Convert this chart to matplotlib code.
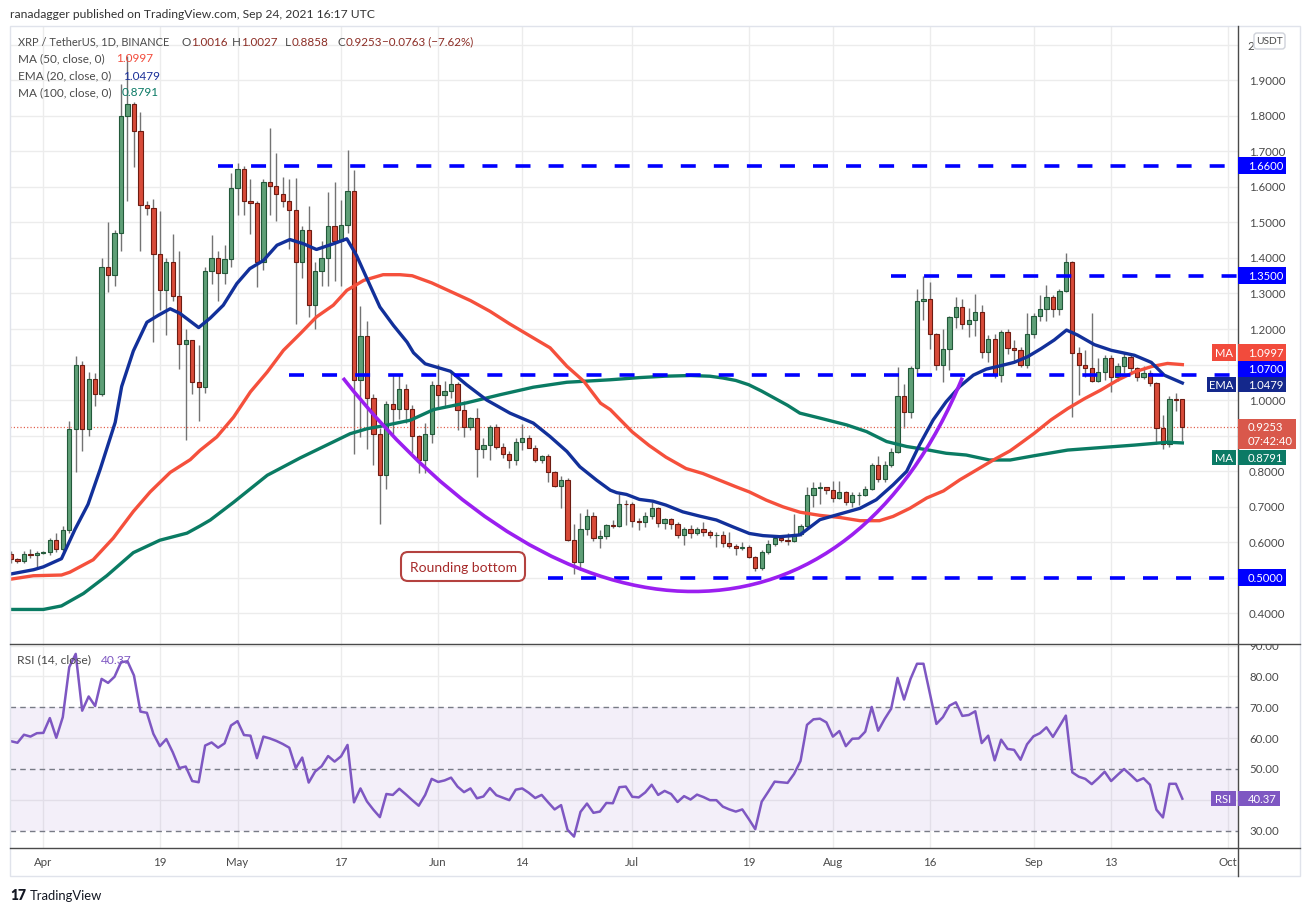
import numpy as np
import pandas as pd
import matplotlib
matplotlib.use("Agg")
import matplotlib.pyplot as plt
import matplotlib.dates as mdates
from matplotlib.patches import Rectangle, FancyBboxPatch, PathPatch
from matplotlib.path import Path
from matplotlib.lines import Line2D
from matplotlib.transforms import IdentityTransform

plt.rcParams['font.family'] = ['Lato', 'DejaVu Sans']
plt.rcParams['lines.scale_dashes'] = False

W, H = 1310, 912

# daily candles XRP/USDT, 27 Mar - 24 Sep 2021
dates = pd.date_range("2021-03-27", "2021-09-24", freq="D")
opens = [0.565, 0.552, 0.546, 0.567, 0.562, 0.570, 0.571, 0.607, 0.580, 0.635,
         0.917, 1.098, 0.917, 1.058, 1.018, 1.374, 1.352, 1.470, 1.799, 1.835,
         1.758, 1.548, 1.540, 1.410, 1.311, 1.388, 1.292, 1.158, 1.168, 1.050,
         1.036, 1.364, 1.400, 1.358, 1.398, 1.597, 1.652, 1.560, 1.555, 1.389,
         1.614, 1.603, 1.581, 1.560, 1.534, 1.390, 1.480, 1.267, 1.363, 1.400,
         1.490, 1.448, 1.494, 1.590, 1.055, 1.180, 1.006, 0.903, 0.788, 0.990,
         0.975, 1.032, 0.975, 0.900, 0.831, 0.905, 1.042, 1.013, 1.025, 1.046,
         0.971, 0.925, 0.949, 0.862, 0.874, 0.923, 0.869, 0.848, 0.831, 0.883,
         0.892, 0.866, 0.831, 0.843, 0.798, 0.758, 0.775, 0.605, 0.545, 0.636,
         0.674, 0.611, 0.617, 0.647, 0.646, 0.708, 0.707, 0.660, 0.657, 0.674,
         0.696, 0.654, 0.666, 0.651, 0.620, 0.638, 0.626, 0.638, 0.629, 0.620,
         0.621, 0.598, 0.589, 0.582, 0.587, 0.559, 0.528, 0.573, 0.593, 0.610,
         0.606, 0.603, 0.623, 0.646, 0.733, 0.752, 0.754, 0.747, 0.725, 0.740,
         0.714, 0.731, 0.733, 0.750, 0.817, 0.778, 0.817, 0.853, 1.012, 0.967,
         1.091, 1.279, 1.284, 1.187, 1.098, 1.143, 1.234, 1.262, 1.214, 1.225,
         1.247, 1.136, 1.173, 1.070, 1.192, 1.147, 1.141, 1.100, 1.185, 1.236,
         1.255, 1.290, 1.255, 1.307, 1.389, 1.131, 1.098, 1.089, 1.053, 1.079,
         1.119, 1.065, 1.096, 1.122, 1.091, 1.065, 1.077, 1.049, 0.922, 0.875,
         1.003, 1.0016]
highs = [0.575, 0.556, 0.575, 0.580, 0.576, 0.574, 0.612, 0.625, 0.645, 0.940,
         1.123, 1.110, 1.078, 1.075, 1.400, 1.500, 1.480, 1.890, 1.969, 1.840,
         1.810, 1.560, 1.565, 1.532, 1.400, 1.467, 1.420, 1.200, 1.170, 1.156,
         1.375, 1.464, 1.420, 1.436, 1.640, 1.668, 1.659, 1.623, 1.560, 1.623,
         1.767, 1.697, 1.628, 1.623, 1.625, 1.490, 1.546, 1.389, 1.449, 1.586,
         1.614, 1.564, 1.705, 1.647, 1.265, 1.222, 1.018, 0.920, 0.998, 1.071,
         1.071, 1.045, 0.986, 0.902, 0.936, 1.053, 1.102, 1.054, 1.080, 1.050,
         0.998, 0.951, 0.977, 0.893, 0.929, 0.931, 0.878, 0.855, 0.893, 0.932,
         0.902, 0.874, 0.846, 0.847, 0.800, 0.787, 0.781, 0.651, 0.681, 0.692,
         0.685, 0.633, 0.652, 0.663, 0.736, 0.718, 0.712, 0.668, 0.684, 0.712,
         0.698, 0.668, 0.669, 0.655, 0.642, 0.649, 0.642, 0.657, 0.634, 0.628,
         0.632, 0.628, 0.593, 0.601, 0.592, 0.561, 0.578, 0.605, 0.621, 0.621,
         0.625, 0.680, 0.652, 0.756, 0.770, 0.770, 0.756, 0.773, 0.773, 0.744,
         0.740, 0.740, 0.757, 0.822, 0.843, 0.827, 0.864, 1.092, 1.044, 1.097,
         1.312, 1.350, 1.331, 1.188, 1.199, 1.238, 1.290, 1.285, 1.260, 1.299,
         1.267, 1.183, 1.185, 1.197, 1.199, 1.169, 1.150, 1.246, 1.246, 1.297,
         1.325, 1.297, 1.314, 1.415, 1.391, 1.149, 1.141, 1.246, 1.119, 1.127,
         1.127, 1.105, 1.136, 1.127, 1.094, 1.096, 1.085, 1.052, 0.958, 1.010,
         1.020, 1.0027]
lows = [0.540, 0.541, 0.542, 0.555, 0.530, 0.565, 0.562, 0.572, 0.574, 0.625,
        0.797, 0.857, 0.900, 0.982, 1.010, 1.304, 1.320, 1.420, 1.560, 1.656,
        1.420, 1.520, 1.163, 1.254, 1.183, 1.280, 1.088, 0.887, 1.018, 0.942,
        1.020, 1.328, 1.280, 1.328, 1.375, 1.520, 1.522, 1.468, 1.318, 1.365,
        1.520, 1.503, 1.545, 1.426, 1.215, 1.345, 1.234, 1.200, 1.320, 1.322,
        1.335, 1.322, 1.470, 0.849, 0.896, 0.863, 0.818, 0.652, 0.750, 0.905,
        0.947, 0.935, 0.850, 0.793, 0.795, 0.880, 0.977, 0.981, 1.007, 0.916,
        0.895, 0.916, 0.784, 0.838, 0.830, 0.862, 0.838, 0.808, 0.817, 0.860,
        0.864, 0.826, 0.823, 0.770, 0.756, 0.696, 0.603, 0.510, 0.521, 0.619,
        0.602, 0.582, 0.609, 0.640, 0.641, 0.648, 0.641, 0.634, 0.641, 0.664,
        0.641, 0.637, 0.637, 0.612, 0.592, 0.612, 0.619, 0.617, 0.612, 0.587,
        0.587, 0.584, 0.562, 0.578, 0.555, 0.517, 0.520, 0.565, 0.588, 0.600,
        0.592, 0.601, 0.617, 0.638, 0.700, 0.706, 0.734, 0.714, 0.720, 0.703,
        0.700, 0.703, 0.730, 0.747, 0.770, 0.770, 0.811, 0.850, 0.922, 0.950,
        1.069, 1.225, 1.143, 1.084, 1.052, 1.085, 1.203, 1.201, 1.178, 1.181,
        1.119, 1.108, 1.061, 1.052, 1.130, 1.110, 1.094, 1.091, 1.175, 1.222,
        1.222, 1.235, 1.239, 1.303, 0.953, 1.014, 1.064, 1.050, 1.050, 1.056,
        1.022, 1.053, 1.075, 1.072, 1.053, 1.060, 1.039, 0.875, 0.862, 0.869,
        0.968, 0.8858]
closes = [0.552, 0.546, 0.567, 0.562, 0.570, 0.571, 0.607, 0.580, 0.635, 0.917,
          1.098, 0.917, 1.058, 1.018, 1.374, 1.352, 1.470, 1.799, 1.835, 1.758,
          1.548, 1.540, 1.410, 1.311, 1.388, 1.292, 1.158, 1.168, 1.050, 1.036,
          1.364, 1.400, 1.358, 1.398, 1.597, 1.652, 1.560, 1.555, 1.389, 1.614,
          1.603, 1.581, 1.560, 1.534, 1.390, 1.480, 1.267, 1.363, 1.400, 1.490,
          1.448, 1.494, 1.590, 1.055, 1.180, 1.006, 0.903, 0.788, 0.990, 0.975,
          1.032, 0.975, 0.900, 0.831, 0.905, 1.042, 1.013, 1.025, 1.046, 0.971,
          0.925, 0.949, 0.862, 0.874, 0.923, 0.869, 0.848, 0.831, 0.883, 0.892,
          0.866, 0.831, 0.843, 0.798, 0.758, 0.775, 0.605, 0.545, 0.636, 0.674,
          0.611, 0.617, 0.647, 0.646, 0.708, 0.707, 0.660, 0.657, 0.674, 0.696,
          0.654, 0.666, 0.651, 0.620, 0.638, 0.626, 0.638, 0.629, 0.620, 0.621,
          0.598, 0.589, 0.582, 0.587, 0.559, 0.528, 0.573, 0.593, 0.610, 0.606,
          0.603, 0.623, 0.646, 0.733, 0.752, 0.754, 0.747, 0.725, 0.740, 0.714,
          0.731, 0.733, 0.750, 0.817, 0.778, 0.817, 0.853, 1.012, 0.967, 1.091,
          1.279, 1.284, 1.187, 1.098, 1.143, 1.234, 1.262, 1.214, 1.225, 1.247,
          1.136, 1.173, 1.070, 1.192, 1.147, 1.141, 1.100, 1.185, 1.236, 1.255,
          1.290, 1.255, 1.307, 1.389, 1.131, 1.098, 1.089, 1.053, 1.079, 1.119,
          1.065, 1.096, 1.122, 1.091, 1.065, 1.077, 1.049, 0.922, 0.875, 1.003,
          1.000, 0.9253]

# RSI(14), one value per candle
rsi = [59.0, 58.5, 61.1, 60.5, 61.6, 61.7, 66.5, 60.1, 66.8, 83.0,
       87.3, 68.9, 73.5, 70.4, 79.2, 77.9, 79.9, 84.6, 84.9, 80.3,
       68.6, 68.2, 61.4, 57.4, 59.7, 55.4, 50.3, 50.8, 46.1, 45.7,
       57.6, 58.6, 56.9, 58.3, 64.1, 65.5, 61.0, 60.8, 53.5, 60.5,
       59.9, 59.1, 58.1, 56.9, 50.3, 53.7, 45.6, 49.2, 50.9, 54.2,
       52.4, 54.1, 57.8, 39.2, 43.7, 39.5, 36.8, 34.4, 41.9, 41.6,
       43.6, 41.8, 39.9, 38.1, 41.6, 46.8, 45.8, 46.3, 47.2, 44.3,
       42.5, 43.7, 40.5, 41.1, 43.8, 41.5, 40.7, 39.9, 43.3, 43.7,
       42.3, 40.6, 41.6, 39.2, 36.9, 38.3, 30.3, 28.1, 36.1, 38.8,
       35.8, 36.2, 39.0, 38.9, 44.1, 44.3, 41.0, 40.8, 42.4, 44.9,
       41.6, 42.9, 41.9, 39.3, 41.2, 40.1, 41.7, 40.9, 39.9, 39.9,
       37.8, 36.9, 36.2, 36.9, 33.8, 30.5, 39.4, 42.6, 45.9, 45.7,
       45.5, 48.4, 52.6, 64.3, 66.1, 66.3, 65.1, 60.5, 62.3, 57.4,
       59.8, 59.9, 62.1, 70.1, 62.4, 66.2, 69.5, 79.5, 72.5, 79.2,
       84.1, 84.1, 74.3, 64.6, 66.8, 70.5, 71.6, 67.2, 67.5, 68.7,
       58.4, 60.8, 52.8, 59.5, 56.5, 56.2, 53.0, 58.0, 60.6, 61.6,
       63.5, 60.4, 63.8, 67.3, 48.9, 47.5, 46.8, 45.1, 47.0, 49.1,
       46.1, 48.1, 50.0, 48.1, 46.1, 47.0, 44.9, 36.8, 34.3, 45.2,
       45.2, 40.37]

# moving averages at candle positions (1 = 27 Mar)
ema20_at = [1, 4.5, 6, 8.8, 10.9, 12.9, 14.8, 17.1, 18.1, 19.9, 22.0, 23.8, 25.6,
            27.1, 30.0, 31.8, 33.8, 35.9, 37.9, 40.0, 42.1, 44.1, 46.2, 48.2,
            50.8, 52.9, 54.4, 56.0, 58.0, 60.1, 62.2, 63.2, 65.0, 68.9, 71.4,
            74.5, 78.1, 81.7, 84.3, 86.9, 88.9, 91.5, 93.6, 94.6, 96.1, 98.1,
            100.2, 102.2, 104.8, 107.4, 110.0, 112.5, 115.1, 117.2, 119.8, 121.8,
            122.9, 126.0, 129.1, 132.2, 134.7, 137.3, 139.4, 141.4, 143.5, 145.5,
            147.6, 149.7, 151.7, 153.8, 156.0, 158.1, 160.2, 162.2, 164.1, 165.8,
            168.4, 171.0, 174.6, 177.2, 179.2, 182]
ema20 = [0.510, 0.522, 0.530, 0.553, 0.636, 0.706, 0.806, 0.937, 1.038, 1.138, 1.219,
         1.239, 1.257, 1.244, 1.204, 1.231, 1.267, 1.328, 1.370, 1.393, 1.436,
         1.452, 1.440, 1.424, 1.440, 1.454, 1.407, 1.342, 1.262, 1.210, 1.163,
         1.133, 1.102, 1.081, 1.043, 1.000, 0.963, 0.935, 0.897, 0.855, 0.812,
         0.774, 0.746, 0.739, 0.734, 0.720, 0.715, 0.704, 0.685, 0.673, 0.662,
         0.643, 0.624, 0.618, 0.615, 0.618, 0.620, 0.663, 0.679, 0.695, 0.719,
         0.761, 0.799, 0.874, 0.944, 0.995, 1.038, 1.070, 1.087, 1.096, 1.106,
         1.122, 1.145, 1.169, 1.197, 1.183, 1.156, 1.140, 1.126, 1.106, 1.070,
         1.0479]
ma50_at = [0.85, 4.45, 8.8, 10.1, 13.7, 16.8, 19.9, 22.5, 25.6, 28.7, 30.2, 32.8,
           35.4, 38.0, 40.6, 43.1, 45.7, 48.2, 50.8, 52.9, 55.5, 58.5, 61.1, 63,
           66, 69, 72, 75, 78, 81.7, 84.3, 86.9, 89.5, 92.1, 93.6, 95, 97, 99.6,
           102.2, 105.3, 107.9, 110.5, 113.1, 115.1, 117.7, 120.3, 122.9, 126,
           129.1, 132.2, 135.2, 137.3, 139.9, 142.5, 145.1, 147.6, 150.2, 152.8,
           155.4, 157, 159.1, 161.7, 164.3, 166.9, 169.4, 172, 174.6, 177.2,
           179.7, 182]
ma50 = [0.495, 0.505, 0.507, 0.515, 0.550, 0.611, 0.686, 0.741, 0.796, 0.832, 0.858,
        0.896, 0.952, 1.023, 1.079, 1.140, 1.187, 1.234, 1.267, 1.309, 1.337,
        1.353, 1.353, 1.350, 1.330, 1.305, 1.280, 1.250, 1.215, 1.175, 1.147,
        1.095, 1.053, 0.991, 0.973, 0.947, 0.910, 0.872, 0.839, 0.807, 0.793,
        0.774, 0.755, 0.741, 0.718, 0.699, 0.684, 0.675, 0.669, 0.660, 0.660,
        0.672, 0.695, 0.724, 0.744, 0.775, 0.803, 0.831, 0.857, 0.878, 0.906,
        0.944, 0.976, 1.004, 1.028, 1.056, 1.079, 1.094, 1.103, 1.0997]
ma100_at = [0.85, 6, 8.8, 12.2, 15.8, 19.9, 24, 28.2, 30.2, 31.8, 35.4, 40.6, 45.7,
            50.8, 53.4, 56, 59, 62.7, 66.3, 71.4, 76.6, 81.7, 86.9, 93.6, 98, 102,
            106, 109, 111, 113, 115, 117, 119, 121, 122.9, 126, 130.1, 133.2,
            136.3, 139.4, 142.5, 145.5, 148.6, 152.2, 155.4, 159.1, 164.3, 169.4,
            174.6, 179.7, 182]
ma100 = [0.410, 0.410, 0.420, 0.455, 0.505, 0.570, 0.605, 0.625, 0.645, 0.662,
         0.712, 0.788, 0.837, 0.882, 0.905, 0.919, 0.929, 0.943, 0.973, 0.992,
         1.015, 1.036, 1.050, 1.057, 1.063, 1.067, 1.069, 1.067, 1.062, 1.055,
         1.043, 1.025, 1.005, 0.985, 0.963, 0.949, 0.930, 0.911, 0.883, 0.869,
         0.860, 0.850, 0.845, 0.831, 0.831, 0.843, 0.859, 0.866, 0.873, 0.881,
         0.8791]

# drawings
levels = [1.66, 1.35, 1.07, 0.50]
level_from = [33, 137, 44, 84]
arc_nodes = [(52.3, 1.062), (87, 0.26), (130, 0.26), (148, 1.063)]

tick_dates = ["2021-04-01", "2021-04-19", "2021-05-01", "2021-05-17", "2021-06-01",
              "2021-06-14", "2021-07-01", "2021-07-19", "2021-08-01", "2021-08-16",
              "2021-09-01", "2021-09-13", "2021-10-01"]
tick_labels = ["Apr", "19", "May", "17", "Jun", "14", "Jul", "19", "Aug", "16",
               "Sep", "13", "Oct"]
price_ticks = [0.4, 0.5, 0.6, 0.7, 0.8, 0.9, 1.0, 1.1, 1.2, 1.3, 1.4, 1.5, 1.6, 1.7,
               1.8, 1.9, 2.0]
price_shown = [0.4, 0.6, 0.7, 0.8, 1.0, 1.2, 1.3, 1.4, 1.5, 1.6, 1.7, 1.8, 1.9]
rsi_shown = [90, 80, 70, 60, 50, 30]

GREY = "#4a4a4a"


def fbox(left, top, right, bottom):
    return [left / W, 1 - bottom / H, (right - left) / W, (bottom - top) / H]


def fy(y):
    return 1 - y / H


x = mdates.date2num(dates)
x0 = x[0]
o, h, l, c = map(np.array, (opens, highs, lows, closes))

fig = plt.figure(figsize=(W / 100, H / 100), dpi=100)
ax = fig.add_axes(fbox(10, 27, 1238, 645))
ax_r = fig.add_axes(fbox(10, 645, 1238, 849))

for a in (ax, ax_r):
    a.set_xlim(x0 - 0.155, x0 + 189.6)
    a.set_xticks(mdates.date2num(pd.to_datetime(tick_dates)))
    a.tick_params(length=0, labelbottom=False, labelleft=False)
    a.grid(True, color="#ececec", lw=1)
    a.set_axisbelow(True)
    for s in a.spines.values():
        s.set_visible(False)
ax.set_ylim(0.3127, 2.0535)
ax.set_yticks(price_ticks)
ax_r.set_ylim(24.4, 90.5)
ax_r.set_yticks([40, 60, 80, 90])

# candles
up = c >= o
ax.vlines(x, l, h, color="#737373", lw=1, zorder=2)
ax.bar(x[up], (c - o)[up], bottom=o[up], width=0.66, color="#5f9f77",
       edgecolor="#23593a", lw=0.8, zorder=3)
ax.bar(x[~up], (o - c)[~up], bottom=c[~up], width=0.66, color="#d84b39",
       edgecolor="#6e1c12", lw=0.8, zorder=3)

# moving averages
ax.plot(x0 + np.array(ma100_at) - 1, ma100, color="#0a7b63", lw=2.4, zorder=4)
ax.plot(x0 + np.array(ma50_at) - 1, ma50, color="#f5503c", lw=2.4, zorder=4)
ax.plot(x0 + np.array(ema20_at) - 1, ema20, color="#12309a", lw=2.4, zorder=4)

# last price line
ax.axhline(closes[-1], color="#e0533f", lw=0.9, dashes=(0.8, 1.6), zorder=2)

# horizontal levels
for lv, n0 in zip(levels, level_from):
    ax.plot([x0 + n0 - 1, x0 + 190], [lv, lv], color="#0000ff", lw=2.6,
            dashes=(10.8, 13), solid_capstyle="butt", dash_capstyle="butt", zorder=6)

# rounding bottom arc
verts = [(x0 + n - 1, v) for n, v in arc_nodes]
arc = Path(verts, [Path.MOVETO, Path.CURVE4, Path.CURVE4, Path.CURVE4])
ax.add_patch(PathPatch(arc, fill=False, edgecolor="#9b1ff0", lw=2.6, zorder=6))

# RSI panel
ax_r.axhspan(30, 70, color="#7e57c2", alpha=0.09, lw=0)
for lv in (70, 50, 30):
    ax_r.axhline(lv, color="#787b86", lw=1, dashes=(4, 3))
ax_r.plot(x, rsi, color="#7e57c2", lw=1.8, zorder=4)


def ypix(a, v):
    return H - a.transData.transform((x0, v))[1]


def xpix(d):
    return ax.transData.transform((d, 1))[0]


def rect(x1, y1, x2, y2, fc, ec="none", lw=0, z=5, rounding=0):
    if rounding:
        p = FancyBboxPatch((x1, H - y2), x2 - x1, y2 - y1,
                           boxstyle=f"round,pad=0,rounding_size={rounding}",
                           transform=IdentityTransform(), facecolor=fc,
                           edgecolor=ec, lw=lw, zorder=z)
    else:
        p = Rectangle((x1, H - y2), x2 - x1, y2 - y1, transform=IdentityTransform(),
                      facecolor=fc, edgecolor=ec, lw=lw, zorder=z)
    fig.add_artist(p)


def label(xp, yp, s, color=GREY, size=8.3, ha="left", z=6, **kw):
    return fig.text(xp / W, fy(yp), s, color=color, fontsize=size, ha=ha,
                    va="center", zorder=z, **kw)


# price scale labels (the ones hidden behind tags in the original are left out)
for v in price_shown:
    label(1249, ypix(ax, v), f"{v:.4f}", z=3)
label(1247, ypix(ax, 2.0) + 1, "2", z=3)
for v in rsi_shown:
    label(1249, ypix(ax_r, v), f"{v:.2f}", z=3)
rect(1239, 628, 1299, 644.5, "white", z=4)

# frame and separators
rect(10, 27, 1300, 877, "none", ec="#e0e3eb", lw=1, z=7)
fig.add_artist(Line2D([1238 / W] * 2, [fy(27), fy(877)], color=GREY, lw=1, zorder=8))
for yy in (645, 849):
    fig.add_artist(Line2D([10 / W, 1300 / W], [fy(yy)] * 2, color=GREY, lw=1, zorder=8))

# USDT badge
rect(1254, 34, 1285, 50, "white", ec="#cfd2da", lw=1, z=5, rounding=3)
label(1269.5, 42, "USDT", size=7.4, ha="center")


def tag(y1, y2, text, fc, name=None, name_left=1212):
    rect(1238, y1, 1286, y2, fc, z=9)
    label(1248, (y1 + y2) / 2, text, color="white", size=8.1, z=10)
    if name:
        rect(name_left, y1, 1236, y2, fc, z=9)
        label((name_left + 1236) / 2, (y1 + y2) / 2, name, color="white",
              size=8.1, ha="center", z=10)


for lv in (1.66, 1.35, 0.50):
    yc = ypix(ax, lv)
    tag(yc - 8.5, yc + 8.5, f"{lv:.4f}", "#0000ff")
tag(345, 362, f"{ma50[-1]:.4f}", "#f24b3c", "MA")
tag(361.7, 377.5, "1.0700", "#0000ff")
tag(378, 393, f"{ema20[-1]:.4f}", "#14288c", "EMA", name_left=1207)
tag(451, 466, f"{ma100[-1]:.4f}", "#0b7a65", "MA")
rect(1238, 420, 1296, 450, "#d9584b", z=9)
label(1248, 428, f"{closes[-1]:.4f}", color="white", size=8.1, z=10)
label(1248, 442, "07:42:40", color="white", size=8.1, z=10)

yr = ypix(ax_r, rsi[-1])
rect(1238, yr - 7.5, 1280, yr + 7.5, "#7e57c2", z=9)
label(1248, yr, f"{rsi[-1]:.2f}", color="white", size=8.1, z=10)
rect(1211, yr - 7.5, 1236, yr + 7.5, "#7e57c2", z=9)
label(1223.5, yr, "RSI", color="white", size=8.1, ha="center", z=10)

# time axis labels
for d, s in zip(pd.to_datetime(tick_dates), tick_labels):
    label(xpix(mdates.date2num(d)), 863, s, ha="center")

# annotation box
rect(401, 553, 525, 582, "white", ec="#b4423f", lw=1.5, z=9, rounding=7)
label(463, 567.5, "Rounding bottom", color="#a62b2b", size=10, ha="center", z=10)

# header texts
label(10, 15, "ranadagger published on TradingView.com, Sep 24, 2021 16:17 UTC",
      color="#333333", size=8.7)
RED_TXT = "#8c2d25"
label(18, 42, "XRP / TetherUS, 1D, BINANCE", size=7.9)
renderer = fig.canvas.get_renderer()
for xp, key, val in [(181, "O", "1.0016"), (232, "H", "1.0027"), (285, "L", "0.8858"),
                     (337, "C", "0.9253")]:
    t = label(xp, 42, key, size=8.4)
    kx = t.get_window_extent(renderer).x1
    label(kx + 0.5, 42, val, color=RED_TXT, size=8.4)
label(382, 42, "\u22120.0763 (\u22127.62%)", color=RED_TXT, size=8.4)
label(18, 59, "MA (50, close, 0)", size=8.5)
label(116, 59, f"{ma50[-1]:.4f}", color="#f24b3c", size=8.5)
label(18, 76, "EMA (20, close, 0)", size=8.5)
label(123, 76, f"{ema20[-1]:.4f}", color="#1a2f98", size=8.5)
label(18, 93, "MA (100, close, 0)", size=8.5)
label(122, 93, f"{ma100[-1]:.4f}", color="#0b7a65", size=8.5)
label(17, 660, "RSI (14, close)", size=8.7)
label(101, 660, f"{rsi[-1]:.2f}", color="#7e57c2", size=8.7)

# footer
label(10, 896, "17", color="#131722", size=10, fontweight="heavy")
label(30, 896, "TradingView", color="#131722", size=9.4)

fig.savefig("out.png", dpi=100)
